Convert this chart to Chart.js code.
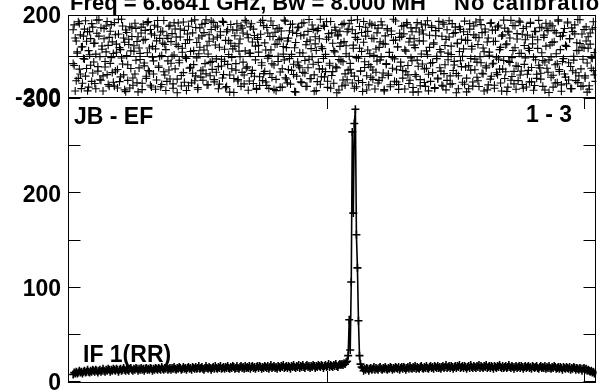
<!DOCTYPE html>
<html lang="en">
<head>
<meta charset="UTF-8">
<title>JB - EF, IF 1(RR)</title>
<script src="https://cdn.jsdelivr.net/npm/chart.js@4.4.1/dist/chart.umd.min.js"></script>
<style>
  html, body { margin: 0; padding: 0; background: #fff; }
  #wrap { position: relative; width: 602px; height: 391px; }
</style>
</head>
<body>
<div id="wrap"><canvas id="plot" width="602" height="391"></canvas></div>
<script>
// header and panel labels
var titleText = "Freq = 6.6641 GHz, Bw = 8.000 MH";
var titleTail = "No calibratio";
var baselineLabel = "JB - EF";
var pairLabel = "1 - 3";
var ifLabel = "IF 1(RR)";

// axes
var firstChannel = 4;
var chanTicks = [250, 500];
var phaseTicks = [-200, 200];
var ampTicks = [0, 50, 100, 150, 200, 250, 300];
var ampLabels = [0, 100, 200, 300];

// amplitude per channel (ch 4 .. 511)
var amplitude = [
  7,9,8,10,8,9,11,9,10,8,10,11,9,10,12,10,9,11,10,12,
  11,10,12,11,9,11,12,10,11,13,11,10,12,11,13,12,10,12,11,13,
  12,11,13,12,10,12,13,11,12,14,12,11,13,12,11,13,14,12,11,13,
  12,14,13,11,13,12,14,12,13,11,13,14,12,13,12,14,13,11,13,12,
  14,13,12,14,13,12,15,13,12,14,13,15,12,13,14,12,14,13,15,13,
  12,14,13,15,14,12,13,15,13,14,12,14,15,13,14,12,15,14,13,15,
  13,14,16,13,14,15,13,12,14,16,14,13,15,14,12,14,15,13,16,14,
  13,15,14,16,13,14,15,13,15,14,16,14,13,15,14,16,15,13,14,16,
  14,13,15,16,14,15,13,16,14,15,14,16,13,15,16,14,15,13,15,16,
  14,16,15,13,15,14,16,15,14,16,13,15,17,14,15,16,14,15,13,16,
  15,14,16,15,17,14,15,16,14,16,15,13,16,15,17,15,14,16,15,17,
  14,16,15,17,15,14,16,17,15,16,14,16,15,17,16,14,16,15,17,16,
  15,17,16,14,16,17,15,16,18,15,17,16,15,17,16,18,16,15,17,18,
  17,18,17,19,18,20,21,27,65,33,105,264,178,273,288,155,120,64,27,18,
  15,14,11,13,12,14,13,11,13,14,12,13,15,12,14,13,12,14,15,13,
  12,14,13,15,13,12,14,13,15,14,12,14,13,15,14,13,15,12,14,15,
  13,15,14,12,14,15,13,16,14,13,15,14,16,13,15,14,13,15,16,14,
  13,15,14,16,14,13,15,16,14,15,13,16,15,14,16,14,15,13,15,16,
  14,15,17,14,15,16,14,16,15,13,15,16,14,16,15,17,14,15,16,14,
  16,15,13,15,16,14,17,15,14,16,15,14,16,15,17,14,16,15,14,16,
  15,17,14,15,16,14,16,15,13,16,15,14,16,15,17,15,14,16,14,15,
  16,14,15,17,15,14,16,15,13,15,16,14,15,16,14,16,15,13,15,16,
  14,15,16,14,15,13,16,15,14,15,16,14,13,15,16,14,15,14,16,13,
  15,14,16,14,13,15,14,16,15,13,14,15,13,15,14,12,15,14,13,15,
  14,13,15,12,14,13,15,14,12,14,13,12,14,13,11,13,14,12,13,11,
  12,11,10,11,9,10,8,9
];

// phase per channel, degrees (ch 4 .. 511), first integration
var phaseA = [
  -37,152,88,-121,14,167,-64,103,-159,45,-12,131,-98,72,-170,26,119,-45,158,-83,
  61,-134,9,175,-52,97,-116,138,33,-171,84,-27,146,-91,52,-147,121,-8,69,-128,
  163,-73,18,-156,107,41,-102,179,-39,88,-165,127,2,-119,56,143,-61,95,-143,23,
  -88,134,71,-175,39,-17,112,-133,155,-48,81,-109,16,168,-77,129,-151,47,-24,101,
  -162,74,142,-56,-3,117,-139,63,173,-93,31,-124,86,-68,150,-35,109,-157,5,132,
  57,-113,161,-21,93,-146,38,-81,125,-6,-168,79,145,-59,22,-131,113,-42,176,-97,
  66,-154,11,137,-72,98,-118,29,159,-87,50,-140,104,-31,171,-65,83,-126,140,-14,
  92,-160,43,118,-49,-107,164,-26,76,-149,128,7,-93,154,-62,35,-178,99,-37,126,
  -115,60,-4,147,-80,112,-136,25,166,-53,89,-122,13,157,-70,131,-99,48,-163,81,
  19,-144,106,-33,174,-86,64,-127,139,-11,-158,95,30,-105,149,-44,116,-169,58,-2,
  136,-78,87,-152,46,-19,170,-112,73,-66,123,-137,8,156,-90,40,-176,110,-29,141,
  -57,99,-130,15,162,-84,55,-148,120,-16,78,-110,151,-40,-172,94,27,-125,135,-63,
  179,-101,36,-12,144,-76,82,-153,109,-45,168,-95,62,-133,20,126,-58,103,-166,47,
  -24,153,-117,70,-142,11,118,-69,157,-36,-83,128,53,-157,91,-8,177,-120,38,-74,
  115,-173,67,-28,140,-96,29,-141,160,-54,86,-114,3,149,-79,113,-132,42,-19,167,
  -106,61,-164,98,-41,134,-88,17,-150,122,-7,76,-123,171,-67,45,-139,90,-30,145,
  -71,108,-161,24,155,-92,68,-118,137,-23,-176,84,41,-99,163,-50,117,-145,10,127,
  73,-129,152,-60,6,-170,101,-35,139,-81,57,-154,124,-13,-108,169,32,-74,96,-147,
  155,-43,81,-119,14,172,-97,48,-135,110,-26,141,-85,63,-160,22,130,-52,-1,118,
  -138,76,-175,105,-47,158,-69,34,-127,146,-15,91,-104,56,-149,176,-33,114,-87,21,
  132,-58,-165,88,19,-113,162,-39,71,-143,127,-6,-91,150,-64,42,-171,103,-22,136,
  -77,59,-152,117,-32,174,-100,27,-136,148,-48,83,-120,12,165,-73,106,-157,51,-9,
  143,-89,37,-126,159,-56,92,-167,121,-18,-109,79,-45,138,-84,16,-148,102,-29,160,
  -60,124,-178,54,-5,147,-94,69,-132,113,-38,170,-75,31,-141,99,-13,134,-103,46,
  166,-117,85,-51,-159,119,-20,152,-82,65,-130,28,177,-63,107,-146,39,-97,142,-34,
  94,-162,58,-8,131,-71,17,-124
];

// phase per channel, degrees (ch 4 .. 511), second integration
var phaseB = [
  128,-46,-171,73,21,-109,158,-88,44,-133,97,-15,172,-61,119,-152,6,85,-124,141,
  -29,63,-160,111,-74,176,-3,-118,49,-97,134,-54,20,168,-139,91,-36,153,-81,12,
  -147,104,58,-66,179,-125,31,-10,146,-92,67,-174,115,-43,82,-156,25,137,-107,50,
  160,-21,-131,94,-58,13,141,-164,77,-34,125,-99,163,-71,39,-143,108,-6,-88,150,
  35,-117,173,-49,86,-150,2,121,-77,56,-168,99,-24,145,-112,70,-1,-136,162,-63,
  93,-179,47,-33,132,-95,18,166,-128,61,-12,107,-145,79,-55,170,-84,26,-121,139,
  -9,-162,88,43,-103,155,-68,114,-37,177,-141,10,72,-96,129,-26,164,-115,54,-79,
  146,-52,-137,101,-16,169,-90,33,-155,118,-41,75,-176,62,-7,127,-110,48,-69,157,
  -122,24,83,-148,136,-30,-93,174,-59,106,-167,15,142,-85,68,-134,100,-19,-158,90,
  52,-101,165,-45,-120,148,-75,29,-144,112,3,-86,171,-38,95,-163,57,-114,133,-27,
  80,-153,122,-62,9,175,-106,41,-131,87,-13,154,-70,116,-40,-173,66,-98,138,-48,
  16,-126,160,-80,103,-22,-149,71,-57,178,-111,36,-4,130,-92,59,-169,124,-31,84,
  -138,45,-64,150,-102,8,167,-123,92,-35,-157,113,-76,27,140,-53,-179,98,-17,121,
  64,-146,-28,159,-87,50,-116,131,-1,-65,174,-132,38,-98,109,-150,81,-11,144,-73,
  22,-129,168,-56,97,-166,120,-42,11,-104,152,-68,85,-161,34,-25,136,-119,69,-5,
  151,-83,-170,58,-37,127,-95,18,-140,105,-60,179,-14,78,-127,44,-163,111,-50,96,
  -108,148,30,-77,163,-46,-134,86,-9,118,-154,53,-90,137,-20,-175,74,-115,156,-39,
  107,-63,-148,25,172,-89,42,-124,147,-32,64,-158,99,-2,-112,135,-57,20,-143,162,
  -86,51,-165,128,-18,93,-137,7,158,-71,-44,114,-179,60,-96,143,-23,82,-128,35,
  170,-54,-108,76,-160,131,-12,47,-147,103,-67,166,-30,-121,89,-3,153,-84,39,-171,
  117,-48,68,-141,4,159,-99,126,-35,-157,72,-82,142,-15,31,-132,97,-64,175,-110,
  55,-173,121,-26,88,-118,-8,149,-75,40,-162,109,-51,170,-93,13,-139,134,-41,79,
  -151,102,-70,27,165,-126,59,-6,-144,119,-89,37,174,-58,-113,140,-22,91,-166,48,
  133,-79,-19,156,-104,66,-152,124,-43,11,-130,176,-66,95,-172,-27,115,-88,52,-135,
  161,-33,84,-159,137,-72,-2,108,-120,26,178,-97,61,-148,43,-16,129,-107,73,-176,
  38,-145,112,-60,-11,167,-92,139
];

var FONT = '"Liberation Sans", Arial, Helvetica, sans-serif';
Chart.defaults.font.family = FONT;

function toPoints(arr) {
  return arr.map(function(v, i) { return {x: firstChannel + i, y: v}; });
}

// white page, frames, inward ticks and the text inside the panels
var decorations = {
  id: 'decorations',
  beforeDraw: function(chart) {
    var ctx = chart.ctx;
    ctx.save();
    ctx.fillStyle = '#fff';
    ctx.fillRect(0, 0, chart.width, chart.height);
    ctx.restore();
  },
  afterDraw: function(chart) {
    var ctx = chart.ctx;
    var area = chart.chartArea;
    var xs = chart.scales.x, yP = chart.scales.yPhase, yA = chart.scales.yAmp;
    var L = Math.round(area.left) + 0.5, R = Math.round(area.right) - 0.5;
    ctx.save();
    ctx.strokeStyle = '#000';
    ctx.lineWidth = 1;

    // panel frames
    ctx.strokeRect(L, Math.round(yP.top) + 0.5, R - L, Math.round(yP.bottom - yP.top));
    ctx.strokeRect(L, Math.round(yA.top) + 0.5, R - L, Math.round(yA.bottom - yA.top) - 1);

    // zero phase line
    var y0 = Math.round(yP.getPixelForValue(0)) + 0.5;
    ctx.beginPath(); ctx.moveTo(L, y0); ctx.lineTo(R, y0); ctx.stroke();

    // amplitude ticks, both sides
    ctx.beginPath();
    ampTicks.forEach(function(v) {
      var y = Math.round(yA.getPixelForValue(v)) + 0.5;
      ctx.moveTo(L, y); ctx.lineTo(L + 12, y);
      ctx.moveTo(R, y); ctx.lineTo(R - 12, y);
    });
    // channel ticks, top and bottom of the amplitude panel
    chanTicks.forEach(function(c) {
      var x = Math.round(xs.getPixelForValue(c)) + 0.5;
      ctx.moveTo(x, yA.top); ctx.lineTo(x, yA.top + 12);
      ctx.moveTo(x, yA.bottom); ctx.lineTo(x, yA.bottom - 12);
    });
    ctx.stroke();

    // text
    ctx.fillStyle = '#000';
    ctx.textBaseline = 'alphabetic';
    ctx.textAlign = 'left';
    ctx.font = 'bold 22px ' + FONT;
    ctx.fillText(titleText, 70, 10);
    ctx.letterSpacing = '1px';
    ctx.fillText(titleTail, 454, 10);
    ctx.letterSpacing = '0px';
    ctx.font = 'bold 23px ' + FONT;
    ctx.fillText(baselineLabel, 74, 124);
    ctx.fillText(ifLabel, 83, 362);
    ctx.textAlign = 'right';
    ctx.fillText(pairLabel, 572, 122);
    ctx.restore();
  }
};

function axisFont() { return {size: 23, weight: 'bold', family: FONT}; }

// fixed gutter, and no extra room kept for the end labels
function fitLeft(s) {
  s.width = 68;
  s.paddingTop = 0;
  s.paddingBottom = 0;
}

function phaseSet(arr, name) {
  return {
    label: name,
    data: toPoints(arr),
    yAxisID: 'yPhase',
    showLine: false,
    pointStyle: 'cross',
    pointRadius: 4,
    borderColor: '#000',
    borderWidth: 1.1
  };
}

new Chart(document.getElementById('plot'), {
  type: 'scatter',
  data: {
    datasets: [
      phaseSet(phaseA, 'phase 1'),
      phaseSet(phaseB, 'phase 2'),
      {
        label: 'amplitude',
        data: toPoints(amplitude),
        yAxisID: 'yAmp',
        showLine: true,
        pointStyle: 'cross',
        pointRadius: 4,
        borderColor: '#000',
        borderWidth: 1.6,
        tension: 0
      }
    ]
  },
  options: {
    responsive: false,
    animation: false,
    events: [],
    layout: { padding: { top: 15, right: 3, bottom: 8, left: 0 } },
    plugins: { legend: { display: false }, tooltip: { enabled: false } },
    scales: {
      x: { type: 'linear', min: -1, max: 512, display: false },
      yAmp: {
        type: 'linear', position: 'left', stack: 'panels', stackWeight: 286,
        min: -2, max: 301,
        afterBuildTicks: function(s) { s.ticks = ampTicks.map(function(v) { return {value: v}; }); },
        afterFit: fitLeft,
        grid: { display: false, drawTicks: false },
        border: { display: false },
        ticks: {
          autoSkip: false, padding: 7, labelOffset: 3, color: '#000', font: axisFont(),
          callback: function(v) { return ampLabels.indexOf(v) >= 0 ? String(v) : ''; }
        }
      },
      yPhase: {
        type: 'linear', position: 'left', stack: 'panels', stackWeight: 82,
        min: -200, max: 200,
        afterBuildTicks: function(s) { s.ticks = phaseTicks.map(function(v) { return {value: v}; }); },
        afterFit: fitLeft,
        grid: { display: false, drawTicks: false },
        border: { display: false },
        ticks: { autoSkip: false, padding: 7, labelOffset: 2, color: '#000', font: axisFont() }
      }
    }
  },
  plugins: [decorations]
});
</script>
</body>
</html>
